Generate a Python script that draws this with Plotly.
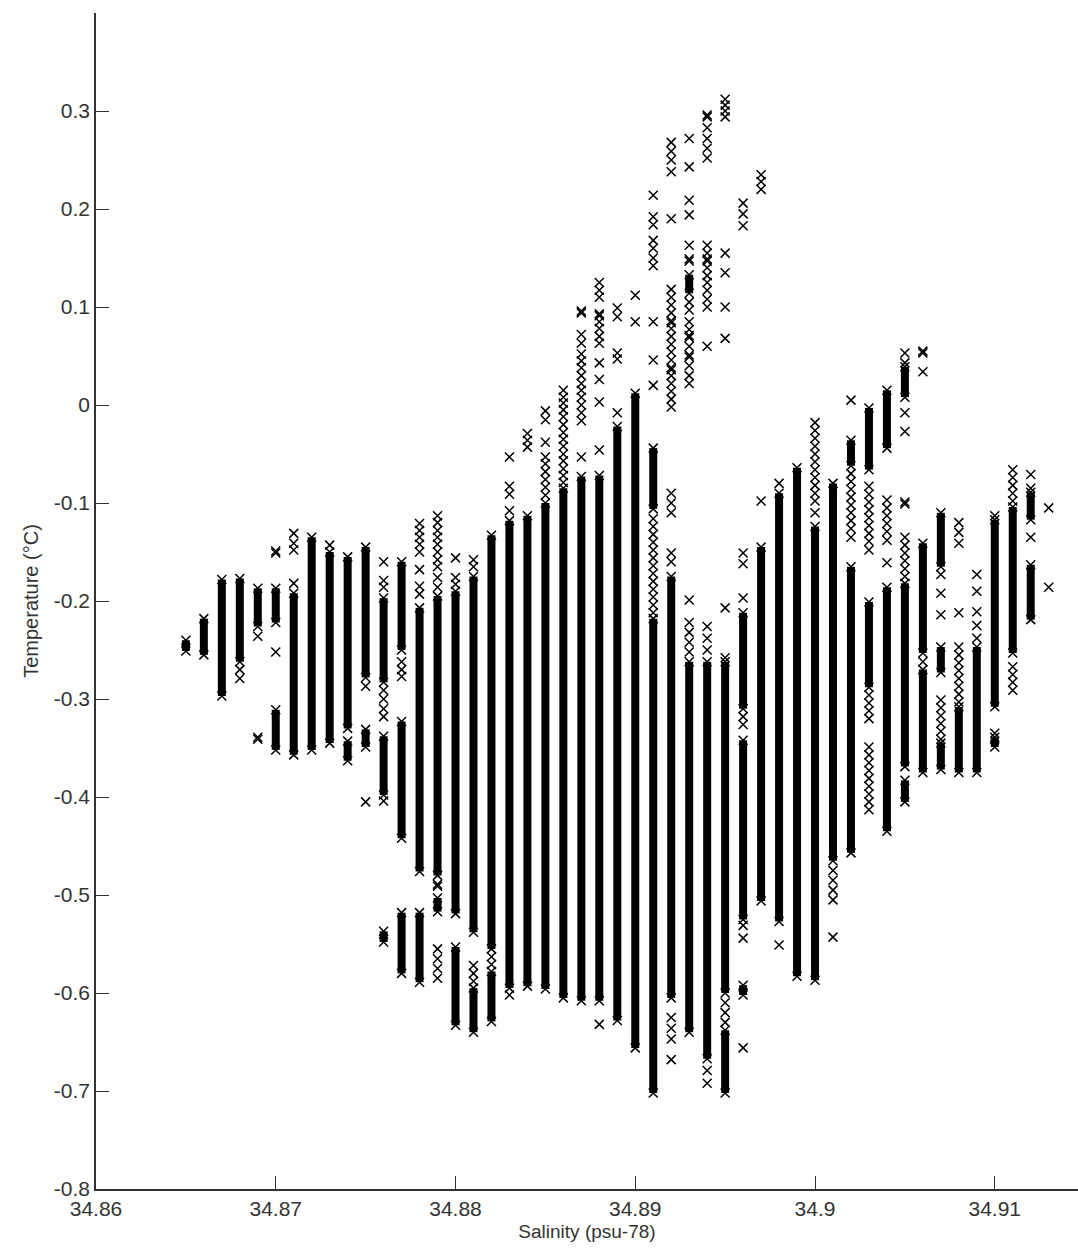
import plotly.graph_objects as go

# Salinity (psu-78) / temperature (degC) CTD samples, grouped by salinity bin.
# Dense runs of consecutive samples: (salinity, upper temperature, lower temperature)
bar_runs = [
    (34.865, -0.240, -0.251),
    (34.866, -0.218, -0.255),
    (34.867, -0.178, -0.297),
    (34.868, -0.177, -0.262),
    (34.869, -0.187, -0.226),
    (34.870, -0.187, -0.222), (34.870, -0.311, -0.352),
    (34.871, -0.192, -0.357),
    (34.872, -0.135, -0.352),
    (34.873, -0.150, -0.345),
    (34.874, -0.155, -0.330), (34.874, -0.343, -0.363),
    (34.875, -0.145, -0.278), (34.875, -0.331, -0.349),
    (34.876, -0.197, -0.283), (34.876, -0.338, -0.398), (34.876, -0.537, -0.548),
    (34.877, -0.160, -0.250), (34.877, -0.323, -0.442), (34.877, -0.518, -0.580),
    (34.878, -0.207, -0.476), (34.878, -0.518, -0.589),
    (34.879, -0.195, -0.480), (34.879, -0.503, -0.517),
    (34.880, -0.190, -0.519), (34.880, -0.553, -0.633),
    (34.881, -0.175, -0.538), (34.881, -0.595, -0.640),
    (34.882, -0.133, -0.555), (34.882, -0.578, -0.629),
    (34.883, -0.118, -0.595),
    (34.884, -0.113, -0.593),
    (34.885, -0.100, -0.596),
    (34.886, -0.085, -0.605),
    (34.887, -0.073, -0.608),
    (34.888, -0.072, -0.608),
    (34.889, -0.022, -0.628),
    (34.890, 0.012, -0.656),
    (34.891, -0.044, -0.106), (34.891, -0.218, -0.702),
    (34.892, -0.175, -0.605),
    (34.893, 0.133, 0.114), (34.893, -0.262, -0.640),
    (34.894, -0.262, -0.667),
    (34.895, -0.262, -0.600), (34.895, -0.638, -0.702),
    (34.896, -0.212, -0.310), (34.896, -0.342, -0.525), (34.896, -0.592, -0.602),
    (34.897, -0.145, -0.506),
    (34.898, -0.090, -0.527),
    (34.899, -0.064, -0.583),
    (34.900, -0.124, -0.587),
    (34.901, -0.080, -0.465),
    (34.902, -0.036, -0.062), (34.902, -0.165, -0.457),
    (34.903, -0.003, -0.066), (34.903, -0.201, -0.288),
    (34.904, 0.015, -0.044), (34.904, -0.186, -0.435),
    (34.905, 0.039, 0.008), (34.905, -0.182, -0.369), (34.905, -0.383, -0.405),
    (34.906, -0.141, -0.253), (34.906, -0.270, -0.375),
    (34.907, -0.110, -0.165), (34.907, -0.247, -0.273), (34.907, -0.345, -0.372),
    (34.908, -0.308, -0.375),
    (34.909, -0.247, -0.375),
    (34.910, -0.117, -0.308), (34.910, -0.339, -0.349),
    (34.911, -0.104, -0.253),
    (34.912, -0.089, -0.117), (34.912, -0.163, -0.219),
]

# Isolated samples: (salinity, [temperatures])
single_samples = [
    (34.868, [-0.270, -0.279]),
    (34.869, [-0.236, -0.339, -0.341]),
    (34.870, [-0.149, -0.151, -0.252]),
    (34.871, [-0.131, -0.141, -0.148, -0.182]),
    (34.873, [-0.143]),
    (34.875, [-0.287, -0.405]),
    (34.876, [-0.160, -0.179, -0.186, -0.291, -0.300, -0.310, -0.318, -0.404]),
    (34.877, [-0.262, -0.270, -0.277]),
    (34.878, [-0.121, -0.128, -0.135, -0.142, -0.150, -0.168, -0.185, -0.193]),
    (34.879, [-0.113, -0.120, -0.128, -0.135, -0.142, -0.150, -0.158, -0.165,
              -0.176, -0.186, -0.489, -0.491, -0.555, -0.565, -0.575, -0.585]),
    (34.880, [-0.156, -0.176, -0.183]),
    (34.881, [-0.158, -0.165, -0.572, -0.580, -0.588]),
    (34.882, [-0.563, -0.571]),
    (34.883, [-0.053, -0.083, -0.091, -0.108, -0.602]),
    (34.884, [-0.029, -0.036, -0.043]),
    (34.885, [-0.006, -0.015, -0.038, -0.053, -0.060, -0.068, -0.076, -0.084, -0.092]),
    (34.886, [0.015, 0.008, 0.002, -0.005, -0.012, -0.020, -0.028, -0.035, -0.042,
              -0.050, -0.057, -0.065, -0.072, -0.079]),
    (34.887, [0.096, 0.094, 0.072, 0.063, 0.052, 0.045, 0.038, 0.030, 0.022, 0.015,
              0.008, 0.000, -0.008, -0.016, -0.053]),
    (34.888, [0.125, 0.117, 0.110, 0.093, 0.091, 0.085, 0.078, 0.070, 0.063, 0.043,
              0.026, 0.003, -0.046, -0.632]),
    (34.889, [0.099, 0.090, 0.053, 0.047, -0.008]),
    (34.890, [0.112, 0.085]),
    (34.891, [0.214, 0.192, 0.184, 0.168, 0.160, 0.150, 0.142, 0.085, 0.046, 0.020,
              -0.116, -0.124, -0.132, -0.140, -0.148, -0.156, -0.164, -0.172,
              -0.180, -0.188, -0.196, -0.204, -0.212]),
    (34.892, [0.268, 0.259, 0.250, 0.238, 0.190, 0.118, 0.110, 0.102, 0.094, 0.086,
              0.084, 0.078, 0.070, 0.062, 0.054, 0.046, 0.038, 0.036, 0.030, 0.022,
              0.014, 0.006, -0.002, -0.090, -0.100, -0.110, -0.151, -0.160,
              -0.625, -0.636, -0.647, -0.668]),
    (34.893, [0.272, 0.243, 0.209, 0.194, 0.163, 0.149, 0.147, 0.105, 0.097, 0.085,
              0.077, 0.071, 0.069, 0.060, 0.051, 0.049, 0.040, 0.030, 0.022,
              -0.199, -0.222, -0.232, -0.242, -0.252]),
    (34.894, [0.296, 0.294, 0.283, 0.272, 0.262, 0.252, 0.163, 0.155, 0.149, 0.147,
              0.140, 0.132, 0.125, 0.117, 0.108, 0.100, 0.060,
              -0.226, -0.238, -0.250, -0.679, -0.692]),
    (34.895, [0.312, 0.306, 0.300, 0.294, 0.155, 0.135, 0.100, 0.068,
              -0.207, -0.258, -0.610, -0.620, -0.630]),
    (34.896, [0.206, 0.195, 0.183, -0.151, -0.162, -0.197, -0.318, -0.326,
              -0.531, -0.544, -0.656]),
    (34.897, [0.235, 0.228, 0.220, -0.098]),
    (34.898, [-0.080, -0.551]),
    (34.900, [-0.018, -0.026, -0.034, -0.042, -0.050, -0.058, -0.066, -0.074,
              -0.082, -0.090, -0.098, -0.110]),
    (34.901, [-0.475, -0.485, -0.495, -0.505, -0.543]),
    (34.902, [0.005, -0.070, -0.078, -0.086, -0.094, -0.102, -0.110, -0.118,
              -0.126, -0.135]),
    (34.903, [-0.083, -0.091, -0.099, -0.107, -0.115, -0.123, -0.131, -0.139, -0.148,
              -0.296, -0.304, -0.312, -0.320, -0.349, -0.357, -0.365, -0.373,
              -0.381, -0.389, -0.397, -0.405, -0.413]),
    (34.904, [-0.097, -0.105, -0.113, -0.121, -0.129, -0.138, -0.161]),
    (34.905, [0.053, 0.043, -0.008, -0.027, -0.099, -0.101, -0.135, -0.143, -0.151,
              -0.159, -0.167, -0.175]),
    (34.906, [0.055, 0.053, 0.034, -0.262]),
    (34.907, [-0.173, -0.192, -0.214, -0.301, -0.309, -0.317, -0.325, -0.333, -0.341]),
    (34.908, [-0.120, -0.130, -0.141, -0.212, -0.247, -0.255, -0.263, -0.271,
              -0.279, -0.287, -0.295, -0.303]),
    (34.909, [-0.173, -0.190, -0.211, -0.225, -0.238]),
    (34.910, [-0.113, -0.335]),
    (34.911, [-0.066, -0.074, -0.082, -0.090, -0.098, -0.267, -0.275, -0.283, -0.291]),
    (34.912, [-0.071, -0.085, -0.135]),
    (34.913, [-0.105, -0.186]),
]

x_ticks = [34.86, 34.87, 34.88, 34.89, 34.90, 34.91]
x_tick_labels = ["34.86", "34.87", "34.88", "34.89", "34.9", "34.91"]
y_ticks = [-0.8, -0.7, -0.6, -0.5, -0.4, -0.3, -0.2, -0.1, 0.0, 0.1, 0.2, 0.3]
y_tick_labels = ["-0.8", "-0.7", "-0.6", "-0.5", "-0.4", "-0.3", "-0.2", "-0.1",
                 "0", "0.1", "0.2", "0.3"]

# Segments for the dense runs (None breaks the polyline between runs)
seg_x, seg_y = [], []
for sal, t_hi, t_lo in bar_runs:
    seg_x += [sal, sal, None]
    seg_y += [t_hi, t_lo, None]

# Cross markers: every isolated sample plus the ends of each run
mk_x, mk_y = [], []
for sal, temps in single_samples:
    for t in temps:
        mk_x.append(sal)
        mk_y.append(t)
for sal, t_hi, t_lo in bar_runs:
    mk_x += [sal, sal]
    mk_y += [t_hi, t_lo]

fig = go.Figure()
fig.add_trace(go.Scatter(
    x=seg_x, y=seg_y, mode="lines",
    line=dict(color="black", width=8),
    hoverinfo="skip", showlegend=False,
))
fig.add_trace(go.Scatter(
    x=mk_x, y=mk_y, mode="markers",
    marker=dict(symbol="x-thin", size=9, line=dict(color="black", width=1.5)),
    showlegend=False,
))

font_family = "Liberation Sans, Arial, sans-serif"
text_color = "#333333"
axis_common = dict(
    showgrid=False, zeroline=False, showline=True,
    linecolor="#333333", linewidth=1.5,
    ticks="inside", ticklen=13, tickwidth=1, tickcolor="#333333",
    tickfont=dict(family=font_family, size=21, color=text_color),
    automargin=False, mirror=False,
)

fig.update_layout(
    width=1078, height=1255,
    margin=dict(l=96, r=0, t=13, b=66),
    paper_bgcolor="white", plot_bgcolor="white",
    template="none",
    xaxis=dict(
        range=[34.86, 34.91463], tickvals=x_ticks, ticktext=x_tick_labels,
        title=dict(text="Salinity (psu-78)", standoff=6,
                   font=dict(family=font_family, size=19, color=text_color)),
        **axis_common,
    ),
    yaxis=dict(
        range=[-0.8, 0.4], tickvals=y_ticks, ticktext=y_tick_labels,
        title=dict(text="Temperature (°C)", standoff=10,
                   font=dict(family=font_family, size=20, color=text_color)),
        **axis_common,
    ),
)

fig.write_html("out.html")
